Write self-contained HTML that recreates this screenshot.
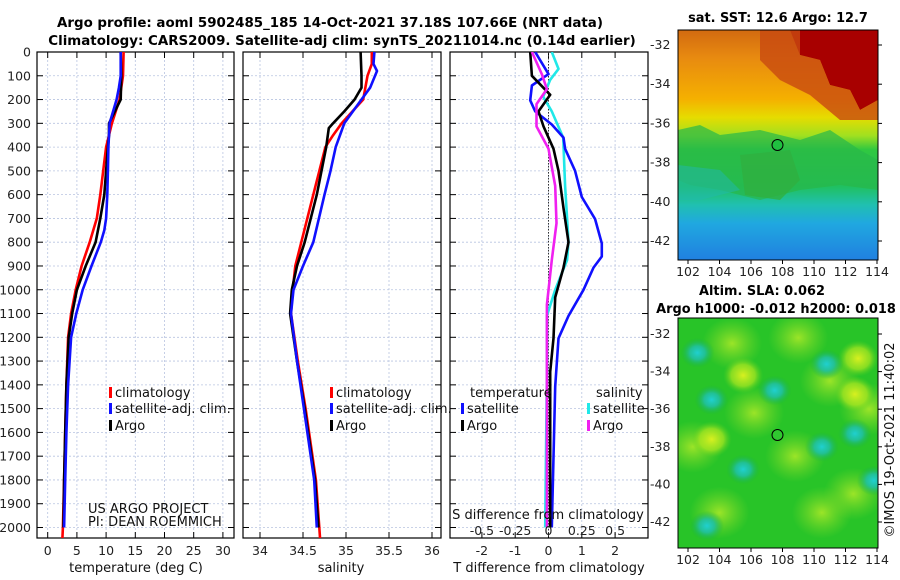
<!DOCTYPE html>
<html><head><meta charset="utf-8">
<style>
html,body{margin:0;padding:0;background:#fff;}
svg{display:block;font-family:"DejaVu Sans","Liberation Sans",sans-serif;}
.tk{font-size:12.5px;fill:#222;}
.tt{font-size:13.4px;font-weight:bold;fill:#000;}
.mt{font-size:12.9px;font-weight:bold;fill:#000;}
.lg{font-size:13px;fill:#111;}
</style></head>
<body>
<svg id="chart" width="900" height="580" viewBox="0 0 900 580" xmlns="http://www.w3.org/2000/svg">
<defs>
<linearGradient id="sstg" x1="0" y1="0" x2="0" y2="1">
<stop offset="0" stop-color="#d26a10"/><stop offset="0.12" stop-color="#e88a10"/>
<stop offset="0.3" stop-color="#f5b000"/><stop offset="0.38" stop-color="#e6dc00"/>
<stop offset="0.46" stop-color="#a0e020"/><stop offset="0.52" stop-color="#30c840"/>
<stop offset="0.68" stop-color="#20c060"/><stop offset="0.76" stop-color="#20c0b0"/>
<stop offset="0.84" stop-color="#20a8e0"/><stop offset="1" stop-color="#2080e0"/>
</linearGradient>
<radialGradient id="ylw"><stop offset="0" stop-color="#d8f020"/><stop offset="0.6" stop-color="#b0e820" stop-opacity="0.7"/><stop offset="1" stop-color="#60d020" stop-opacity="0"/></radialGradient>
<radialGradient id="ylw2"><stop offset="0" stop-color="#a8e828" stop-opacity="0.9"/><stop offset="1" stop-color="#80d828" stop-opacity="0"/></radialGradient>
<radialGradient id="cyn"><stop offset="0" stop-color="#20d0d0"/><stop offset="0.45" stop-color="#20c0a0" stop-opacity="0.9"/><stop offset="1" stop-color="#18b040" stop-opacity="0"/></radialGradient>
<clipPath id="cp1"><rect x="37" y="52" width="197" height="486"/></clipPath>
<clipPath id="cp2"><rect x="243" y="52" width="198" height="486"/></clipPath>
<clipPath id="cp3"><rect x="450" y="52" width="198" height="486"/></clipPath>
<clipPath id="cm1"><rect x="678" y="30" width="200" height="230"/></clipPath>
<clipPath id="cm2"><rect x="678" y="318" width="200" height="230"/></clipPath>
</defs>
<text class="tt" x="330" y="27" text-anchor="middle">Argo profile: aoml 5902485_185 14-Oct-2021 37.18S 107.66E (NRT data)</text>
<text class="tt" x="342" y="45" text-anchor="middle">Climatology: CARS2009. Satellite-adj clim: synTS_20211014.nc (0.14d earlier)</text>
<g id="g1"></g><g id="g2"></g><g id="g3"></g>
<g clip-path="url(#cm1)">
<rect x="678" y="30" width="200" height="230" fill="url(#sstg)"/>
<polygon points="790,30 878,30 878,100 860,110 850,90 830,85 820,60 800,55" fill="#a80000"/>
<polygon points="760,30 800,30 800,55 820,60 830,85 850,90 860,110 878,100 878,120 840,120 810,95 780,80 760,60" fill="#c84a10" opacity="0.8"/>
<polygon points="678,130 700,125 720,135 760,130 800,140 830,130 860,150 878,160 878,190 840,185 800,190 760,200 720,190 690,185 678,180" fill="#28b848" opacity="0.7"/>
<polygon points="740,155 790,150 800,180 780,200 745,195" fill="#30b040" opacity="0.8"/>
<polygon points="678,165 720,170 740,190 700,200 678,200" fill="#20b8b0" opacity="0.5"/>
<circle cx="777.5" cy="145" r="5.5" fill="#20c040" stroke="#000" stroke-width="1"/>
</g>
<rect x="678" y="30" width="200" height="230" fill="none" stroke="#000" stroke-width="1"/>
<g clip-path="url(#cm2)">
<rect x="678" y="318" width="200" height="230" fill="#28c428"/>
<g id="blobs"></g>
<circle cx="777.5" cy="435" r="5.5" fill="#30c830" stroke="#000" stroke-width="1"/>
</g>
<rect x="678" y="318" width="200" height="230" fill="none" stroke="#000" stroke-width="1"/>
<g id="maxes"></g>
<text class="mt" x="778" y="22" text-anchor="middle">sat. SST: 12.6 Argo: 12.7</text>
<text class="mt" x="762" y="295" text-anchor="middle">Altim. SLA: 0.062</text>
<text class="mt" x="776" y="313" text-anchor="middle">Argo h1000: -0.012 h2000: 0.018</text>
<text x="894" y="440" transform="rotate(-90 894 440)" text-anchor="middle" font-size="13" fill="#111">©IMOS 19-Oct-2021 11:40:02</text>
</svg>
<script>
const depthTicks=[0,100,200,300,400,500,600,700,800,900,1000,1100,1200,1300,1400,1500,1600,1700,1800,1900,2000];
const tempTicks=[0,5,10,15,20,25,30];
const salTicks=[34,34.5,35,35.5,36];
const tdTicks=[-2,-1,0,1,2];
const sdTickLabels=["-0.5","-0.25","0","0.25","0.5"];
const sdTickVals=[-0.5,-0.25,0,0.25,0.5];
const tClimD=[0,100,200,300,400,500,600,700,800,900,1000,1100,1200,1400,1600,1800,2000,2055];
const tClimV=[13,12.9,12.3,11,10,9.5,9,8.4,7.2,5.8,4.8,4.0,3.5,3.2,3.0,2.8,2.6,2.5];
const tArgoD=[0,100,200,300,350,400,500,600,700,800,900,1000,1100,1200,1400,1600,1800,2000];
const tArgoV=[12.5,12.6,12.5,10.5,10.5,10.3,10,9.7,9,8.2,6.5,5,4.2,3.6,3.2,3.0,2.8,2.7];
const tSatD=[0,100,150,200,300,400,500,600,700,750,800,900,1000,1100,1200,1400,1600,1800,2000];
const tSatV=[12.5,12.5,12.2,11.8,10.6,10.4,10.3,10.2,10,9.7,9.1,7.5,6,4.9,4,3.5,3.2,3.0,2.8];
const sClimD=[0,50,100,200,300,350,400,600,800,900,1000,1100,1300,1500,1800,2000,2055];
const sClimV=[35.3,35.3,35.25,35.2,34.95,34.85,34.76,34.62,34.48,34.41,34.38,34.36,34.44,34.53,34.65,34.69,34.7];
const sArgoD=[0,100,150,200,250,300,320,400,600,800,900,1000,1100,1300,1500,1800,2000];
const sArgoV=[35.17,35.18,35.18,35.1,34.98,34.85,34.8,34.77,34.66,34.52,34.43,34.37,34.35,34.43,34.52,34.64,34.68];
const sSatD=[0,50,80,150,200,300,400,500,600,800,900,1000,1100,1300,1500,1800,2000];
const sSatV=[35.33,35.32,35.36,35.28,35.18,34.98,34.88,34.82,34.75,34.62,34.5,34.39,34.36,34.43,34.51,34.63,34.66];
const dtSatD=[0,93,141,203,250,305,360,407,500,610,703,805,860,907,1000,1110,1204,1407,2000];
const dtSatV=[-0.4,0,-0.5,-0.55,-0.4,0.1,0.45,0.5,0.8,1.0,1.4,1.6,1.6,1.35,1.05,0.6,0.3,0.2,0.1];
const dtArgoD=[0,100,180,250,313,407,500,657,800,907,1032,1204,1345,2000];
const dtArgoV=[-0.55,-0.5,0.05,-0.3,-0.15,0.15,0.3,0.45,0.6,0.45,0.2,0.15,0.05,0.05];
const dsSatD=[0,71,117,188,250,360,563,797,875,1000,1110,1345,2000];
const dsSatV=[0.025,0.075,0.0125,-0.04,0.025,0.11,0.125,0.15,0.14,0.05,-0.012,-0.012,-0.025];
const dsArgoD=[0,93,156,219,313,407,563,720,875,1063,1345,2000];
const dsArgoV=[-0.125,-0.05,-0.012,-0.09,-0.09,0,0.05,0.06,0.025,-0.012,-0.012,-0.012];
const lonTicks=[102,104,106,108,110,112,114];
const latTicks=[-32,-34,-36,-38,-40,-42];
const blobLon=[104.8,109,111,108.8,112.5,104,106.2,102.3,113.5,110.5,105.5,112.8,103.5,112.6,102.6,103.5,105.5,107.5,110.8,110.5,103.2,112.6,113.8];
const blobLat=[-32.5,-32.2,-34.5,-38.5,-40.5,-41.5,-36.2,-38,-36,-41.5,-34.2,-33.3,-37.6,-35.2,-33,-35.5,-39.2,-35,-33.6,-38,-42.2,-37.3,-39.8];
const blobType=["w","w","w","w","w","w","w","w","w","w","y","y","y","y","c","c","c","c","c","c","c","c","c"];
const y0=52, yPer=0.23775;
const Y=d=>y0+d*yPer;
const xT=v=>47.7+v*5.84;
const xS=v=>260+(v-34)*86;
const xD=v=>548.5+v*33.3;
const xDS=v=>548.5+v*133.2;
const NS="http://www.w3.org/2000/svg";
function mk(tag,attrs,parent){const e=document.createElementNS(NS,tag);for(const k in attrs)e.setAttribute(k,attrs[k]);parent.appendChild(e);return e;}
function panel(g,x0,x1,ticks,xf,labels,showDepthLabels){
  for(const d of depthTicks){
    const ln=mk('line',{x1:x0,x2:x1,y1:Y(d),y2:Y(d),stroke:'#b8c4e0','stroke-width':0.8,'stroke-dasharray':'2,2'},g);
    
    
    mk('line',{x1:x0,x2:x0+6,y1:Y(d),y2:Y(d),stroke:'#000'},g);
    mk('line',{x1:x1-6,x2:x1,y1:Y(d),y2:Y(d),stroke:'#000'},g);
    if(showDepthLabels){
      const t=mk('text',{x:31,y:Y(d)+4.5,'text-anchor':'end',class:'tk'},g);t.textContent=d;
      
      
    }
  }
  ticks.forEach((v,i)=>{
    const ln=mk('line',{x1:xf(v),x2:xf(v),y1:52,y2:538,stroke:'#b8c4e0','stroke-width':0.8,'stroke-dasharray':'2,2'},g);
    
    
    mk('line',{x1:xf(v),x2:xf(v),y1:538,y2:532,stroke:'#000'},g);
    mk('line',{x1:xf(v),x2:xf(v),y1:52,y2:58,stroke:'#000'},g);
    const t=mk('text',{x:xf(v),y:555,'text-anchor':'middle',class:'tk'},g);t.textContent=labels[i];
    
    
  });
  const r=mk('rect',{x:x0,y:52,width:x1-x0,height:486,fill:'none',stroke:'#000','stroke-width':1.2},g);
  
  
}
function line(g,D,V,xf,color,name,w){
  const p=D.map((d,i)=>xf(V[i]).toFixed(1)+','+Y(d).toFixed(1)).join(' ');
  const e=mk('polyline',{points:p,fill:'none',stroke:color,'stroke-width':w||2.6,'stroke-linejoin':'round'},g);
  
  
}
function txt(g,x,y,s,cls,anchor,name){const t=mk('text',{x:x,y:y,class:cls,'text-anchor':anchor||'start'},g);t.textContent=s;
  
  return t;}
function legItem(g,x,y,color,label,name){
  mk('rect',{x:x,y:y-10,width:3,height:11,fill:color},g);
  txt(g,x+6,y,label,'lg','start',name);
}
const g1=document.getElementById('g1');


panel(g1,37,234,tempTicks,xT,tempTicks.map(String),true);
const c1=mk('g',{'clip-path':'url(#cp1)'},g1);
line(c1,tClimD,tClimV,xT,'#f00','temperature-climatology-line');
line(c1,tArgoD,tArgoV,xT,'#000','temperature-argo-line');
line(c1,tSatD,tSatV,xT,'#1010ff','temperature-satellite-line');
legItem(g1,109,397,'#f00','climatology','legend-climatology');
legItem(g1,109,413,'#1010ff','satellite-adj. clim.','legend-satellite-adj');
legItem(g1,109,430,'#000','Argo','legend-argo');
txt(g1,88,513,'US ARGO PROJECT','lg','start','project-credit').setAttribute('font-size','11');
txt(g1,88,526,'PI: DEAN ROEMMICH','lg','start','pi-credit').setAttribute('font-size','11');
txt(g1,136,572,'temperature (deg C)','lg','middle','temperature-axis-title');
const g2=document.getElementById('g2');


panel(g2,243,441,salTicks,xS,["34","34.5","35","35.5","36"],false);
const c2=mk('g',{'clip-path':'url(#cp2)'},g2);
line(c2,sClimD,sClimV,xS,'#f00','salinity-climatology-line');
line(c2,sArgoD,sArgoV,xS,'#000','salinity-argo-line');
line(c2,sSatD,sSatV,xS,'#1010ff','salinity-satellite-line');
legItem(g2,330,397,'#f00','climatology','legend-climatology-sal');
legItem(g2,330,413,'#1010ff','satellite-adj. clim.','legend-satellite-adj-sal');
legItem(g2,330,430,'#000','Argo','legend-argo-sal');
txt(g2,341,572,'salinity','lg','middle','salinity-axis-title');
const g3=document.getElementById('g3');


panel(g3,450,648,tdTicks,xD,tdTicks.map(String),false);
const c3=mk('g',{'clip-path':'url(#cp3)'},g3);
mk('line',{x1:xD(0),x2:xD(0),y1:52,y2:538,stroke:'#333','stroke-width':1,'stroke-dasharray':'1.5,1.5'},c3);
line(c3,dsSatD,dsSatV,xDS,'#20e8e8','salinity-satellite-diff-line');
line(c3,dtSatD,dtSatV,xD,'#1010ff','temperature-satellite-diff-line');
line(c3,dtArgoD,dtArgoV,xD,'#000','temperature-argo-diff-line');
line(c3,dsArgoD,dsArgoV,xDS,'#f020f0','salinity-argo-diff-line');
txt(g3,470,397,'temperature','lg','start','legend-temperature-header');
txt(g3,596,397,'salinity','lg','start','legend-salinity-header');
legItem(g3,461,413,'#1010ff','satellite','legend-temp-satellite');
legItem(g3,461,430,'#000','Argo','legend-temp-argo');
legItem(g3,587,413,'#20e8e8','satellite','legend-sal-satellite');
legItem(g3,587,430,'#f020f0','Argo','legend-sal-argo');
txt(g3,548,519,'S difference from climatology','lg','middle','s-diff-axis-title');
sdTickVals.forEach((v,i)=>{txt(g3,xDS(v),535,sdTickLabels[i],'tk','middle','s-diff-tick-label');});
txt(g3,549,572,'T difference from climatology','lg','middle','t-diff-axis-title');
const ma=document.getElementById('maxes');
const xL=v=>688+(v-102)*15.75;
[[30,260,45,19.6],[318,548,334,18.8]].forEach(([t,b,y32,per])=>{
  lonTicks.forEach(v=>{
    mk('line',{x1:xL(v),x2:xL(v),y1:b,y2:b+4,stroke:'#000'},ma);
    txt(ma,xL(v),b+16,String(v),'tk','middle','lon-tick-label');
  });
  latTicks.forEach(v=>{
    const y=y32+(-32-v)*per;
    mk('line',{x1:878,x2:882,y1:y,y2:y,stroke:'#000'},ma);
    txt(ma,650,y+4,String(v),'tk','start','lat-tick-label');
  });
});
const bl=document.getElementById('blobs');
blobLon.forEach((lo,i)=>{
  const t=blobType[i];
  const e=mk('ellipse',{cx:xL(lo),cy:334+(-32-blobLat[i])*18.8,rx:t=='c'?17:(t=='w'?30:20),ry:t=='c'?15:(t=='w'?26:18),fill:t=='c'?'url(#cyn)':(t=='w'?'url(#ylw2)':'url(#ylw)')},bl);
  
  
});
</script>
</body></html>
